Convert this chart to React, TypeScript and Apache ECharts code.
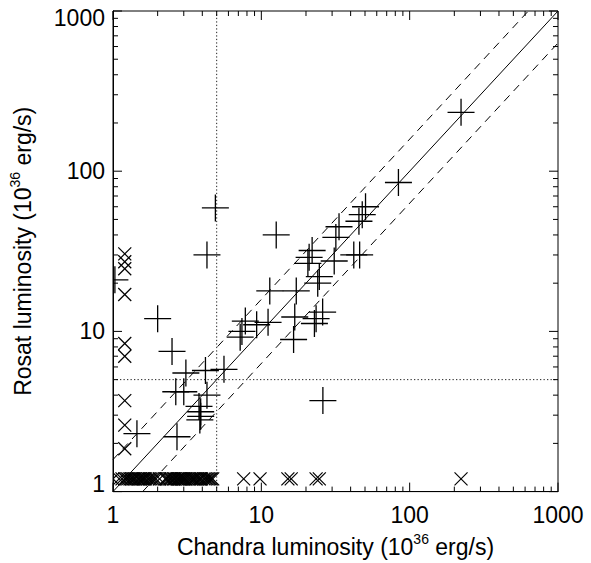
import React, { useEffect, useRef } from "react";
import * as echarts from "echarts";

const FONT = "'Liberation Sans', Arial, Helvetica, sans-serif";

// axis structure
const decades = [1, 10, 100];
const minorSteps = [2, 3, 4, 5, 6, 7, 8, 9];
const axisMax = 1000;

// sources detected by both Chandra and ROSAT ("+")
const detChandra = [
  1.03, 1.45, 2.0, 2.5, 2.7, 2.65, 3.0, 3.1, 3.8, 3.9, 3.9, 3.85, 4.2, 4.3, 4.3, 4.9,
  5.6, 7.2, 7.4, 7.8, 9.3, 11.1, 11.4, 12.6, 16.8, 16.5, 17.2, 21, 20.6, 22, 22.8,
  23.4, 24.6, 24, 25.9, 26, 31, 31.8, 33.4, 42, 46, 45.5, 47.9, 50.4, 84, 222,
];
const detRosat = [
  21, 2.3, 12, 7.5, 2.2, 4.2, 4.2, 5.5, 3.4, 3.15, 2.95, 2.8, 5.7, 4.0, 30, 59,
  5.8, 9.2, 10, 11.6, 11.0, 11.4, 17.9, 40, 12.3, 8.9, 17.9, 29, 26.6, 32, 11.2,
  12.0, 22, 20, 13.2, 3.7, 27.5, 38.6, 45, 30, 30, 48.7, 53.5, 60, 85, 233,
];

// Chandra-only / ROSAT-only sources plotted at the limit value ("x")
const limLeftChandra = [1.2, 1.2, 1.2, 1.2, 1.2, 1.2, 1.2, 1.2, 1.2];
const limLeftRosat = [30.5, 27.2, 24.6, 17, 8.4, 7.0, 3.7, 2.6, 1.85];

const limBottomChandra = [
  1.0, 1.1, 1.15, 1.2, 1.23, 1.26, 1.3, 1.33, 1.36, 1.39,
  1.42, 1.47, 1.5, 1.53, 1.57, 1.6, 1.63, 1.66, 1.72, 1.76,
  1.8, 1.85, 1.9, 1.95, 2.06, 2.25, 2.29, 2.33, 2.4, 2.44,
  2.48, 2.55, 2.58, 2.62, 2.7, 2.75, 2.8, 2.85, 2.9, 2.95,
  3.0, 3.05, 3.1, 3.2, 3.3, 3.38, 3.45, 3.52, 3.6, 3.7,
  3.8, 3.88, 3.95, 4.1, 4.2, 4.3, 4.4, 4.5, 4.6, 4.7,
  7.6, 9.8, 15.1, 15.9, 23.4, 24.6, 222,
];
const limBottomRosat = [
  1.2, 1.2, 1.2, 1.2, 1.2, 1.2, 1.2, 1.2, 1.2, 1.2,
  1.2, 1.2, 1.2, 1.2, 1.2, 1.2, 1.2, 1.2, 1.2, 1.2,
  1.2, 1.2, 1.2, 1.2, 1.2, 1.2, 1.2, 1.2, 1.2, 1.2,
  1.2, 1.2, 1.2, 1.2, 1.2, 1.2, 1.2, 1.2, 1.2, 1.2,
  1.2, 1.2, 1.2, 1.2, 1.2, 1.2, 1.2, 1.2, 1.2, 1.2,
  1.2, 1.2, 1.2, 1.2, 1.2, 1.2, 1.2, 1.2, 1.2, 1.2,
  1.2, 1.2, 1.2, 1.2, 1.2, 1.2, 1.2,
];

// reference lines
const unityLine = [[1, 1], [1000, 1000]];
const upperBand = [[1, 1.585], [631, 1000]];
const lowerBand = [[1.585, 1], [1000, 631]];
const chandraCut = [[5, 1], [5, 1000]];
const rosatCut = [[1, 5], [1000, 5]];

const tickValues: number[][] = [];
decades.forEach((d) => {
  tickValues.push([d, 1]);
  minorSteps.forEach((m) => tickValues.push([d * m, 0]));
});
tickValues.push([axisMax, 1]);

const BLACK = "#000";

const plusRender = (params: any, api: any) => {
  const p = api.coord([api.value(0), api.value(1)]);
  const h = 13.5;
  const style = { stroke: BLACK, lineWidth: 1.3, fill: null };
  return {
    type: "group",
    children: [
      { type: "line", shape: { x1: p[0] - h, y1: p[1], x2: p[0] + h, y2: p[1] }, style },
      { type: "line", shape: { x1: p[0], y1: p[1] - h, x2: p[0], y2: p[1] + h }, style },
    ],
  };
};

const crossRender = (params: any, api: any) => {
  const p = api.coord([api.value(0), api.value(1)]);
  const h = 6.5;
  const style = { stroke: BLACK, lineWidth: 1.2, fill: null };
  return {
    type: "group",
    children: [
      { type: "line", shape: { x1: p[0] - h, y1: p[1] - h, x2: p[0] + h, y2: p[1] + h }, style },
      { type: "line", shape: { x1: p[0] - h, y1: p[1] + h, x2: p[0] + h, y2: p[1] - h }, style },
    ],
  };
};

const xTickRender = (params: any, api: any) => {
  const cs = params.coordSys;
  const x = api.coord([api.value(0), 1])[0];
  const len = api.value(2) ? 9 : 5;
  const style = { stroke: BLACK, lineWidth: 1 };
  const b = cs.y + cs.height;
  return {
    type: "group",
    children: [
      { type: "line", shape: { x1: x, y1: b, x2: x, y2: b - len }, style },
      { type: "line", shape: { x1: x, y1: cs.y, x2: x, y2: cs.y + len }, style },
    ],
  };
};

const yTickRender = (params: any, api: any) => {
  const cs = params.coordSys;
  const y = api.coord([1, api.value(1)])[1];
  const len = api.value(2) ? 9 : 5;
  const style = { stroke: BLACK, lineWidth: 1 };
  const r = cs.x + cs.width;
  return {
    type: "group",
    children: [
      { type: "line", shape: { x1: cs.x, y1: y, x2: cs.x + len, y2: y }, style },
      { type: "line", shape: { x1: r, y1: y, x2: r - len, y2: y }, style },
    ],
  };
};

const lineSeries = (data: number[][], type: any, color = BLACK) => ({
  type: "line",
  data,
  showSymbol: false,
  silent: true,
  lineStyle: { color, width: 1, type },
  z: 2,
});

const txt = { color: BLACK, fontFamily: FONT, fontSize: 23 };
const supStyle = { color: BLACK, fontFamily: FONT, fontSize: 14, padding: [0, 0, 16, 0] };

export default function App() {
  const ref = useRef<HTMLDivElement>(null);
  useEffect(() => {
    if (!ref.current) return;
    const chart = echarts.init(ref.current, null, { renderer: "svg" });
    chart.setOption({
      animation: false,
      backgroundColor: "#fff",
      grid: {
        left: 108,
        top: 11,
        width: 450,
        height: 493,
        show: true,
        borderColor: BLACK,
        borderWidth: 1,
      },
      xAxis: {
        type: "log",
        logBase: 10,
        min: 1,
        max: axisMax,
        axisLine: { show: true, lineStyle: { color: BLACK, width: 1 } },
        axisTick: { show: false },
        splitLine: { show: false },
        axisLabel: {
          ...txt,
          margin: 12,
          showMinLabel: true,
          showMaxLabel: true,
          formatter: (v: number) => String(Math.round(v)),
        },
        name: "Chandra luminosity (10{sup|36} erg/s)",
        nameLocation: "middle",
        nameGap: 37,
        nameTextStyle: { ...txt, rich: { sup: supStyle } },
      },
      yAxis: {
        type: "log",
        logBase: 10,
        min: 1,
        max: axisMax,
        axisLine: { show: true, lineStyle: { color: BLACK, width: 1 } },
        axisTick: { show: false },
        splitLine: { show: false },
        axisLabel: {
          ...txt,
          margin: 8,
          showMinLabel: true,
          showMaxLabel: true,
          formatter: (v: number) => {
            const r = Math.round(v);
            if (r === 1) return "{lo|" + r + "}";
            if (r === axisMax) return "{hi|" + r + "}";
            return "{mid|" + r + "}";
          },
          rich: {
            lo: { ...txt, padding: [0, 0, 16, 0] },
            hi: { ...txt, padding: [13, 0, 0, 0] },
            mid: { ...txt },
          },
        },
        name: "Rosat luminosity (10{sup|36} erg/s)",
        nameLocation: "middle",
        nameGap: 75,
        nameTextStyle: { ...txt, rich: { sup: supStyle } },
      },
      series: [
        lineSeries(chandraCut, [1.3, 2.2], "#222"),
        lineSeries(rosatCut, [1.3, 2.2], "#222"),
        lineSeries(unityLine, "solid"),
        lineSeries(upperBand, [8, 6]),
        lineSeries(lowerBand, [8, 6]),
        {
          type: "custom",
          renderItem: xTickRender,
          data: tickValues.map((t) => [t[0], 1, t[1]]),
          encode: { x: 0, y: 1 },
          silent: true,
          z: 3,
        },
        {
          type: "custom",
          renderItem: yTickRender,
          data: tickValues.map((t) => [1, t[0], t[1]]),
          encode: { x: 0, y: 1 },
          silent: true,
          z: 3,
        },
        {
          type: "custom",
          renderItem: crossRender,
          data: limLeftChandra.map((x, i) => [x, limLeftRosat[i]]),
          encode: { x: 0, y: 1 },
          clip: true,
          z: 4,
        },
        {
          type: "custom",
          renderItem: crossRender,
          data: limBottomChandra.map((x, i) => [x, limBottomRosat[i]]),
          encode: { x: 0, y: 1 },
          clip: true,
          z: 4,
        },
        {
          type: "custom",
          renderItem: plusRender,
          data: detChandra.map((x, i) => [x, detRosat[i]]),
          encode: { x: 0, y: 1 },
          clip: true,
          z: 5,
        },
      ],
    });
    return () => chart.dispose();
  }, []);
  return (
    <div
      ref={ref}
      style={{ position: "fixed", left: 0, top: 0, width: 591, height: 563, background: "#fff" }}
    />
  );
}
